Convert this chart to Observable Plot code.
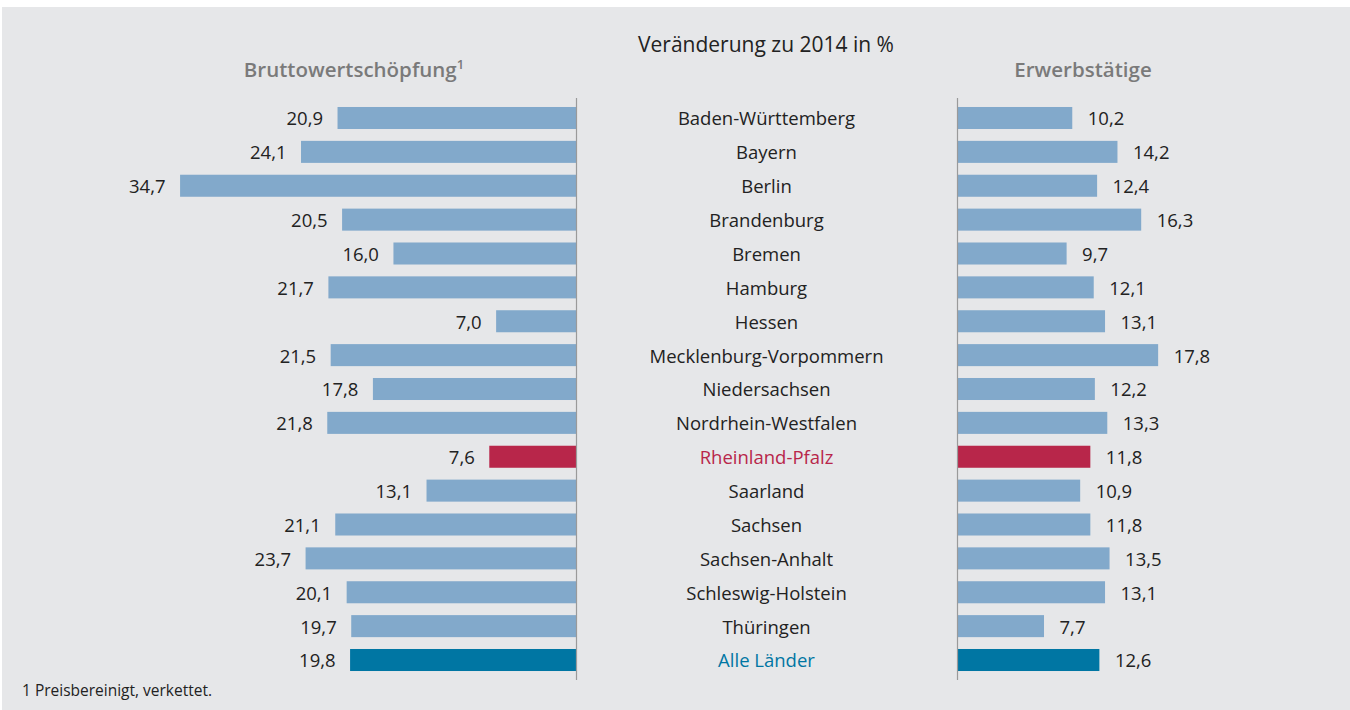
<!DOCTYPE html>
<html><head><meta charset="utf-8">
<script src="https://cdn.jsdelivr.net/npm/d3@7"></script>
<script src="https://cdn.jsdelivr.net/npm/@observablehq/plot@0.6"></script>
<style>
body{margin:0;background:#fff;font-family:"Open Sans",sans-serif;}
#wrap{position:absolute;left:2px;top:7px;width:1348px;height:703px;background:#e6e7e9;overflow:hidden;}
#wrap svg{position:absolute;left:0;top:0;background:transparent;}
.t{position:absolute;white-space:nowrap;}
</style></head>
<body>
<div id="wrap">
  <div class="t" style="left:0;width:1528px;text-align:center;top:23px;font-size:21px;color:#222;">Veränderung zu 2014 in %</div>
  <div class="t" style="left:0;width:704px;text-align:center;top:48px;font-size:20.5px;font-weight:600;color:#7a7a7a;">Bruttowertschöpfung<sup style="font-size:13px;">1</sup></div>
  <div class="t" style="left:0;width:2162px;text-align:center;top:48px;font-size:20.5px;font-weight:600;color:#7a7a7a;">Erwerbstätige</div>
  <div class="t" style="left:20px;top:672px;font-size:15.5px;color:#222;">1 Preisbereinigt, verkettet.</div>
</div>
<script>
const laender = ["Baden-Württemberg","Bayern","Berlin","Brandenburg","Bremen","Hamburg","Hessen","Mecklenburg-Vorpommern","Niedersachsen","Nordrhein-Westfalen","Rheinland-Pfalz","Saarland","Sachsen","Sachsen-Anhalt","Schleswig-Holstein","Thüringen","Alle Länder"];
const bruttowertschoepfung = [20.9,24.1,34.7,20.5,16.0,21.7,7.0,21.5,17.8,21.8,7.6,13.1,21.1,23.7,20.1,19.7,19.8];
const erwerbstaetige = [10.2,14.2,12.4,16.3,9.7,12.1,13.1,17.8,12.2,13.3,11.8,10.9,11.8,13.5,13.1,7.7,12.6];
const gruppe = laender.map(l => l === "Rheinland-Pfalz" ? "rp" : l === "Alle Länder" ? "all" : "land");

const colorMap = {land:"#82a9cb", rp:"#b8264a", all:"#0076a3"};
const textColor = {land:"#222", rp:"#b8264a", all:"#0076a3"};
const fmt = v => d3.format(".1f")(v).replace(".", ",");

const left = laender.map((l,i) => ({land:l, v:bruttowertschoepfung[i], g:gruppe[i]}));
const right = laender.map((l,i) => ({land:l, v:erwerbstaetige[i], g:gruppe[i]}));

const W = 1348, H = 703;
const yOpts = {type:"band", domain:laender, range:[94.06, 669.94], paddingInner:0.35, paddingOuter:0.175, align:0.5, round:false, axis:null};
const font = {fontFamily:"Open Sans, sans-serif"};

const leftPlot = Plot.plot({
  width:W, height:H, marginTop:91, marginBottom:30, marginLeft:0, marginRight:0,
  style:{background:"transparent", ...font},
  x:{domain:[0,40], range:[574, 574 - 11.41*40], axis:null},
  y:yOpts,
  marks:[
    Plot.barX(left, {x1:0, x2:"v", y:"land", fill:d => colorMap[d.g]}),
    Plot.ruleX([0], {stroke:"#9a9a9a", strokeWidth:1.2}),
    Plot.text(left, {x:"v", y:"land", text:d => fmt(d.v), dx:-15, dy:1, textAnchor:"end", fontSize:18.5, fill:"#222"})
  ]
});

const rightPlot = Plot.plot({
  width:W, height:H, marginTop:91, marginBottom:30, marginLeft:0, marginRight:0,
  style:{background:"transparent", ...font},
  x:{domain:[0,40], range:[955, 955 + 11.3*40], axis:null},
  y:yOpts,
  marks:[
    Plot.barX(right, {x1:0, x2:"v", y:"land", fill:d => colorMap[d.g]}),
    Plot.ruleX([0], {stroke:"#9a9a9a", strokeWidth:1.2}),
    Plot.text(right, {x:"v", y:"land", text:d => fmt(d.v), dx:15, dy:1, textAnchor:"start", fontSize:18.5, fill:"#222"})
  ]
});

const midPlot = Plot.plot({
  width:W, height:H, marginTop:91, marginBottom:30, marginLeft:580, marginRight:400,
  style:{background:"transparent", ...font},
  y:yOpts,
  marks:[
    Plot.text(left, {y:"land", text:"land", frameAnchor:"middle", dy:1, fontSize:18.5, fill:d => textColor[d.g]})
  ]
});

const wrap = document.getElementById("wrap");
wrap.appendChild(leftPlot);
wrap.appendChild(rightPlot);
wrap.appendChild(midPlot);
</script>
</body></html>
